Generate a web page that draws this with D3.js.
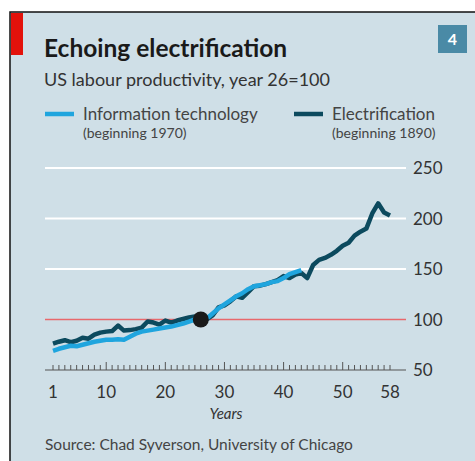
<!DOCTYPE html>
<html>
<head>
<meta charset="utf-8">
<script src="https://cdn.jsdelivr.net/npm/d3@7"></script>
<style>
  body { margin: 0; background: #fff; }
  text { font-family: Lato, "Open Sans", sans-serif; }
</style>
</head>
<body>
<svg width="475" height="461"></svg>
<script>
// data (index, year 26 = 100)
var itYears = d3.range(1, 44);
var itValues = [69, 71, 72.5, 74, 73.5, 75, 76.5, 78, 79, 80,
  80, 80.5, 80, 83, 86, 88, 89, 90, 91, 92,
  93, 94.5, 96, 98, 100, 100, 101, 106, 111, 115,
  119, 123, 126, 130, 133, 134, 135, 137, 138, 141,
  145, 147, 149];
var elYears = d3.range(1, 59);
var elValues = [76, 78, 79.5, 77.5, 79, 82, 81, 85, 87, 88,
  88.5, 94, 89, 89.5, 90.5, 92, 98, 97, 95, 99,
  97, 99, 100.5, 102, 103, 100, 100, 104, 112, 114,
  118, 123, 121.5, 127, 133, 133.5, 135, 137, 139, 143,
  141, 144.5, 146, 141, 154, 159, 161, 164, 168, 173,
  176, 183, 187, 190, 205, 215, 206, 203];
var yTicks = [50, 100, 150, 200, 250];
var xLabels = [1, 10, 20, 30, 40, 50, 58];

var svg = d3.select("svg");

// panel background and frame
svg.append("rect").attr("x", 10).attr("y", 12).attr("width", 465).attr("height", 449).attr("fill", "#cfdfe7");
svg.append("path").attr("d", "M10,461V12H475").attr("fill", "none").attr("stroke", "#111").attr("stroke-width", 1.5);
svg.append("rect").attr("x", 11).attr("y", 13).attr("width", 12).attr("height", 42).attr("fill", "#e3120b");

// chart number box
svg.append("rect").attr("x", 438).attr("y", 25).attr("width", 29).attr("height", 28).attr("fill", "#4a8aa6");
svg.append("text").attr("x", 452.5).attr("y", 45).attr("text-anchor", "middle")
  .attr("fill", "#fff").attr("font-weight", "bold").attr("font-size", 16).text("4");

// titles
svg.append("text").attr("x", 44).attr("y", 57).attr("font-size", 24.5).attr("font-weight", "bold")
  .attr("fill", "#1a1a1a").text("Echoing electrification");
svg.append("text").attr("x", 44).attr("y", 86).attr("font-size", 18)
  .attr("fill", "#333").text("US labour productivity, year 26=100");

// legend
var legend = [
  {x: 45, color: "#1fa5de", name: "Information technology", sub: "(beginning 1970)"},
  {x: 294, color: "#0c4a5e", name: "Electrification", sub: "(beginning 1890)"}
];
legend.forEach(function(d) {
  svg.append("line").attr("x1", d.x).attr("x2", d.x + 29).attr("y1", 114).attr("y2", 114)
    .attr("stroke", d.color).attr("stroke-width", 4.5);
  svg.append("text").attr("x", d.x + 38).attr("y", 120).attr("font-size", 17).attr("fill", "#444").text(d.name);
  svg.append("text").attr("x", d.x + 38).attr("y", 138).attr("font-size", 14).attr("fill", "#444").text(d.sub);
});

var x = d3.scaleLinear().domain([1, 58]).range([53, 390]);
var y = d3.scaleLinear().domain([50, 250]).range([370, 168]);

// gridlines
svg.selectAll(".grid")
  .data(yTicks.filter(function(d) { return d > 100; }))
  .enter().append("line")
    .attr("class", "grid")
    .attr("x1", 45).attr("x2", 406)
    .attr("y1", function(d) { return y(d); })
    .attr("y2", function(d) { return y(d); })
    .attr("stroke", "#fff").attr("stroke-width", 2);

svg.append("line").attr("x1", 45).attr("x2", 406).attr("y1", y(100)).attr("y2", y(100))
  .attr("stroke", "#e8686c").attr("stroke-width", 1.5);
svg.append("line").attr("x1", 45).attr("x2", 406).attr("y1", y(50)).attr("y2", y(50))
  .attr("stroke", "#555").attr("stroke-width", 1.2);

// y labels on the right
svg.selectAll(".ylab")
  .data(yTicks)
  .enter().append("text")
    .attr("class", "ylab")
    .attr("x", 413)
    .attr("y", function(d) { return y(d) + 6; })
    .attr("font-size", 17).attr("fill", "#333")
    .text(function(d) { return d; });

// year ticks, taller at each ten
svg.selectAll(".tick")
  .data(elYears)
  .enter().append("line")
    .attr("class", "tick")
    .attr("x1", function(d) { return x(d); })
    .attr("x2", function(d) { return x(d); })
    .attr("y1", y(50))
    .attr("y2", function(d) { return y(50) - (d % 10 == 0 ? 8 : 5); })
    .attr("stroke", "#555").attr("stroke-width", 1);

svg.selectAll(".xlab")
  .data(xLabels)
  .enter().append("text")
    .attr("class", "xlab")
    .attr("x", function(d) { return x(d); })
    .attr("y", 398)
    .attr("text-anchor", "middle")
    .attr("font-size", 17).attr("fill", "#333")
    .text(function(d) { return d; });

svg.append("text").attr("x", 226).attr("y", 419).attr("text-anchor", "middle")
  .attr("font-size", 15).attr("font-style", "italic").attr("fill", "#333").text("Years");

svg.append("text").attr("x", 45).attr("y", 450).attr("font-size", 15.5)
  .attr("fill", "#444").text("Source: Chad Syverson, University of Chicago");

// lines
var line = d3.line()
  .x(function(d) { return x(d[0]); })
  .y(function(d) { return y(d[1]); });

svg.append("path")
  .datum(d3.zip(elYears, elValues))
  .attr("d", line)
  .attr("fill", "none").attr("stroke", "#0c4a5e").attr("stroke-width", 4.5)
  .attr("stroke-linejoin", "round");

svg.append("path")
  .datum(d3.zip(itYears, itValues))
  .attr("d", line)
  .attr("fill", "none").attr("stroke", "#1fa5de").attr("stroke-width", 4.5)
  .attr("stroke-linejoin", "round");

svg.append("circle").attr("cx", x(26)).attr("cy", y(100)).attr("r", 8).attr("fill", "#1a1a1a");
</script>
</body>
</html>
